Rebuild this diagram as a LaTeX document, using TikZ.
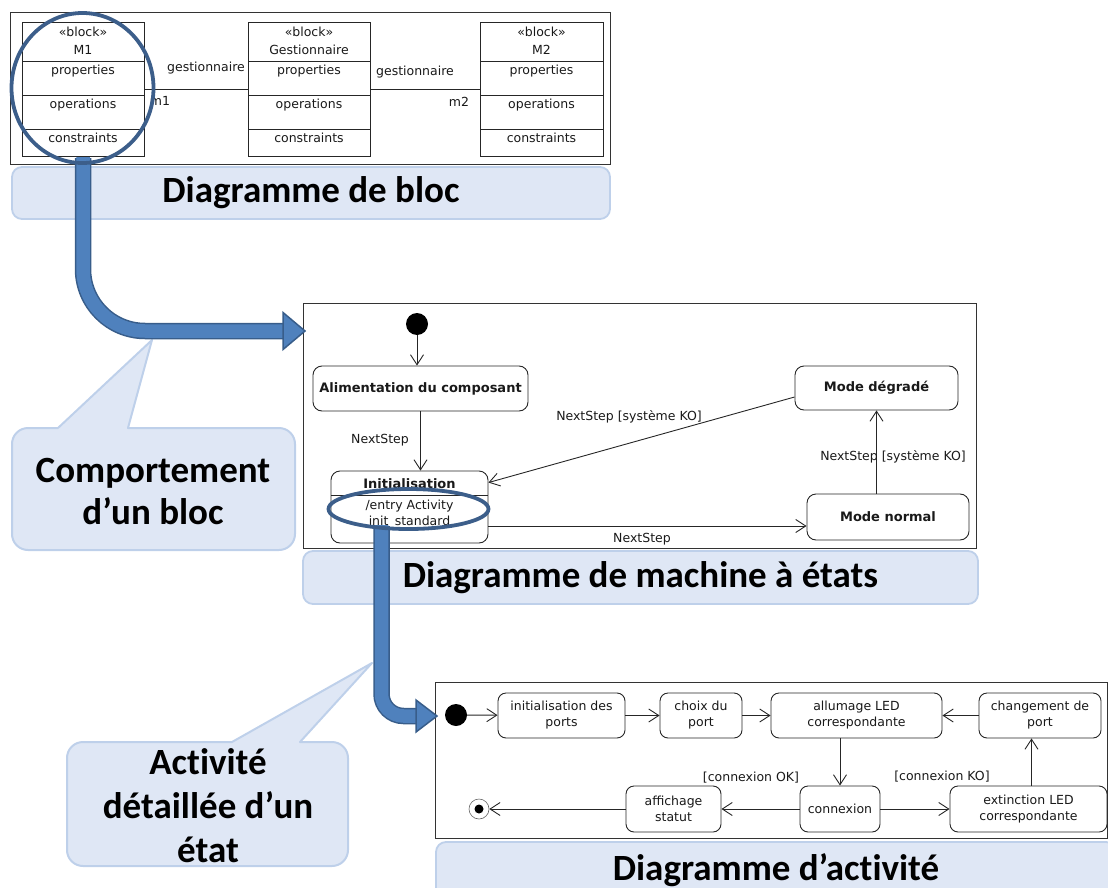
\documentclass[tikz,border=0pt]{standalone}
\usepackage{fontspec}
\setmainfont{DejaVu Sans}
\newfontfamily\callfont[Ligatures=NoCommon]{Carlito}
\usetikzlibrary{arrows.meta,calc}
\definecolor{arrowfill}{RGB}{79,129,189}
\definecolor{arrowline}{RGB}{56,93,138}
\definecolor{ringblue}{RGB}{60,94,138}
\definecolor{callfill}{RGB}{223,231,245}
\definecolor{callline}{RGB}{190,208,234}
\begin{document}
\begin{tikzpicture}[x=1pt,y=-1pt,
  every node/.style={inner sep=0pt},
  umltext/.style={font=\fontsize{12.5}{16}\selectfont, text=black!90},
  umlbold/.style={font=\fontsize{13}{16}\selectfont\bfseries, text=black!90},
  blockbox/.style={draw=black!85, line width=0.9pt, anchor=north west, minimum height=134, inner sep=0pt},
  frame/.style={draw=black!80, line width=0.8pt},
  state/.style={draw=black!85, line width=0.9pt, rounded corners=9, inner sep=0pt, align=center},
  trans/.style={draw=black!85, line width=0.9pt, -{Straight Barb[length=10pt,width=13pt,line width=0.9pt]}},
  assoc/.style={draw=black!85, line width=0.9pt},
  bar/.style={draw=callline, fill=callfill, line width=1.8pt, rounded corners=10},
  bartext/.style={font=\callfont\fontsize{37}{42}\selectfont\bfseries},
  bubble/.style={draw=callline, fill=callfill, line width=2pt, line join=round},
  bigshaftout/.style={draw=arrowline, line width=16.5pt},
  bigshaftin/.style={draw=arrowfill, line width=13.5pt},
  bighead/.style={fill=arrowfill, draw=arrowline, line width=1.5pt, line join=miter},
  ring/.style={draw=ringblue, line width=3.8pt},
  soliddot/.style={circle, fill=black, minimum size=22pt},
]
\useasboundingbox (0,0) rectangle (1108,888);
\clip (0,0) rectangle (1108,888);

% ================= Block diagram =================
\draw[frame] (10,12) rectangle (610,164);
\node[blockbox, minimum width=122] (m1) at (22,22) {};
\node[blockbox, minimum width=122] (gest) at (248,22) {};
\node[blockbox, minimum width=123] (m2) at (480,22) {};
\foreach \xa/\xb in {22/144, 248/370, 480/603}{
  \draw[assoc] (\xa,61) -- (\xb,61);
  \draw[assoc] (\xa,95) -- (\xb,95);
  \draw[assoc] (\xa,129) -- (\xb,129);
}
\node[umltext] (m1st) at (83,32) {«block»};
\node[umltext] (m1nm) at (83,50) {M1};
\node[umltext] (m1pr) at (83,71) {properties};
\node[umltext] (m1op) at (83,105) {operations};
\node[umltext] (m1co) at (83,138) {constraints};
\node[umltext] (gst) at (309,32) {«block»};
\node[umltext] (gnm) at (309,50) {Gestionnaire};
\node[umltext] (gpr) at (309,71) {properties};
\node[umltext] (gop) at (309,105) {operations};
\node[umltext] (gco) at (309,138) {constraints};
\node[umltext] (m2st) at (541.5,32) {«block»};
\node[umltext] (m2nm) at (541.5,50) {M2};
\node[umltext] (m2pr) at (541.5,71) {properties};
\node[umltext] (m2op) at (541.5,105) {operations};
\node[umltext] (m2co) at (541.5,138) {constraints};
\draw[assoc] (m1.east) -- (gest.west);
\draw[assoc] (gest.east) -- (m2.west);
\node[umltext] (lg1) at (206,68) {gestionnaire};
\node[umltext] (lm1) at (160,101) {m1};
\node[umltext] (lg2) at (415,72) {gestionnaire};
\node[umltext] (lm2) at (459,102) {m2};

% ================= State machine =================
\draw[frame] (303,303) rectangle (976,548);
\node[soliddot] (si) at (417,324) {};
\node[state, umlbold, minimum width=215, minimum height=45] (alim) at (420.5,388.5) {Alimentation du composant};
\node[state, minimum width=157, minimum height=72] (initst) at (409.5,507) {};
\draw[assoc] (331,495) -- (488,495);
\node[umlbold] (inittitle) at (409.5,484) {Initialisation};
\node[umltext, align=center] (entry) at (409.5,514) {/entry Activity\\init\_standard};
\node[state, umlbold, minimum width=163, minimum height=44] (degr) at (876.5,388) {Mode dégradé};
\node[state, umlbold, minimum width=162, minimum height=46] (normal) at (888,517) {Mode normal};
\draw[trans] (si) -- (si |- alim.north);
\draw[trans] (alim.south) -- (alim.south |- initst.north);
\draw[trans] ($(degr.west)+(0,9)$) -- ($(initst.north east)+(0,12)$);
\draw[trans] ($(initst.east)+(0,19)$) -- ($(normal.west)+(0,9)$);
\draw[trans] (normal.north -| degr.south) -- (degr.south);
\node[umltext] (l1) at (380,440) {NextStep};
\node[umltext] (l2) at (629,417) {NextStep [système KO]};
\node[umltext] (l3) at (893,457) {NextStep [système KO]};
\node[umltext] (l4) at (642,539) {NextStep};

% ================= Activity diagram =================
\draw[frame] (435,682) rectangle (1107,838);
\node[soliddot] (ainit) at (456,715) {};
\node[state, umltext, minimum width=127, minimum height=45, rounded corners=8] (ports) at (561.5,715.5) {initialisation des\\ports};
\node[state, umltext, minimum width=82, minimum height=45, rounded corners=8] (choix) at (701,715.5) {choix du\\port};
\node[state, umltext, minimum width=171, minimum height=45, rounded corners=8] (allum) at (856.5,715.5) {allumage LED\\correspondante};
\node[state, umltext, minimum width=122, minimum height=45, rounded corners=8] (chang) at (1040,715.5) {changement de\\port};
\node[state, umltext, minimum width=80, minimum height=46, rounded corners=8] (conn) at (840,809) {connexion};
\node[state, umltext, minimum width=157, minimum height=46, rounded corners=8] (ext) at (1028.5,809) {extinction LED\\correspondante};
\node[state, umltext, minimum width=95, minimum height=46, rounded corners=8] (aff) at (673.5,809) {affichage\\statut};
\node[circle, draw=black!60, fill=white, line width=0.6pt, minimum size=20pt] (afin) at (479,809) {};
\node[circle, fill=black, minimum size=9pt] (afindot) at (afin) {};
\coordinate (xk) at (1031.5,0);
\draw[trans] (ainit) -- (ports);
\draw[trans] (ports) -- (choix);
\draw[trans] (choix) -- (allum);
\draw[trans] (chang) -- (allum);
\draw[trans] (allum.south -| conn.north) -- (conn.north);
\draw[trans] (conn) -- (ext);
\draw[trans] (ext.north -| xk) -- (chang.south -| xk);
\draw[trans] (conn) -- (aff);
\draw[trans] (aff) -- (afin);
\node[umltext] (lok) at (751,778) {[connexion OK]};
\node[umltext] (lko) at (942,777) {[connexion KO]};

% ================= Title bars =================
\node[bar, bartext, minimum width=598, minimum height=52] (t1) at (311,193) {Diagramme de bloc};
\node[bar, bartext, minimum width=675, minimum height=53] (t2) at (640.5,577.5) {Diagramme de machine à états};
\node[bar, bartext, minimum width=680, minimum height=56] (t3) at (776,870) {Diagramme d’activité};

% ================= Callouts =================
\draw[bubble] (58,428) -- (152,340) -- (128,428) [rounded corners=16] -- (295,428) -- (295,550) -- (12,550) -- (12,428) -- (58,428);
\node[align=center, font=\callfont\fontsize{37}{42}\selectfont\bfseries] (c1) at (153,491) {Comportement\\d’un bloc};
\draw[bubble] (232,742) -- (372,663) -- (300,742) [rounded corners=16] -- (348,742) -- (348,866) -- (67,866) -- (67,742) -- (232,742);
\node[align=center, font=\callfont\fontsize{37}{44}\selectfont\bfseries] (c2) at (208,806) {Activité\\détaillée d’un\\état};

% ================= Big arrows =================
\draw[bigshaftout, rounded corners=62] (83,158) |- (285,331);
\draw[bigshaftin, rounded corners=62] (83,157) |- (284,331);
\draw[bighead] (283,312.5) -- (305,331) -- (283,349.5) -- cycle;
\draw[bigshaftout, rounded corners=22] (381.5,526) |- (418,716);
\draw[bigshaftin, rounded corners=22] (381.5,525) |- (417,716);
\draw[bighead] (416,700) -- (437,716) -- (416,732) -- cycle;

% ================= Rings =================
\draw[ring] (82.5,88) ellipse [x radius=71, y radius=75];
\draw[ring] (408.5,509) ellipse [x radius=80, y radius=20];
\end{tikzpicture}
\end{document}
